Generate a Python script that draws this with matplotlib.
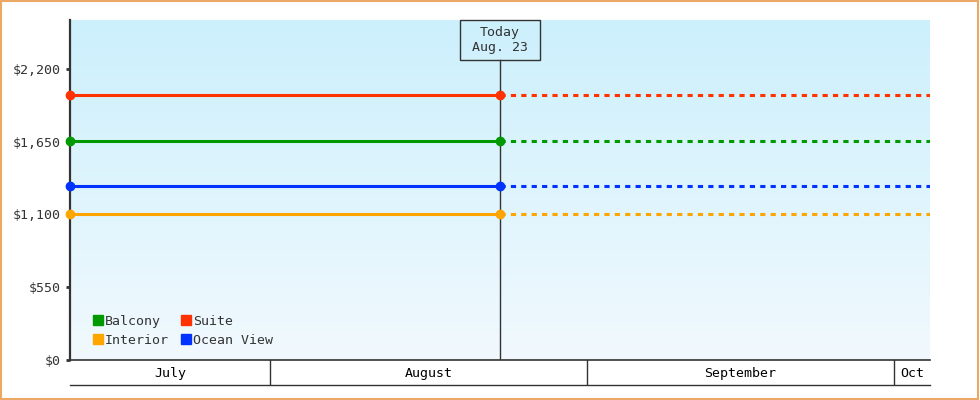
import datetime as dt
import numpy as np
import matplotlib
matplotlib.use("Agg")
import matplotlib.pyplot as plt
import matplotlib.dates as mdates
from matplotlib.patches import Rectangle
from matplotlib.lines import Line2D
from matplotlib.ticker import FuncFormatter

# cabin prices (flat), per cabin type
cabins = ["Balcony", "Suite", "Interior", "Ocean View"]
prices = [1655, 2005, 1100, 1315]
colors = ["#009900", "#ff3300", "#ffa500", "#0033ff"]

start = dt.datetime(2024, 7, 12, 12)
today = dt.datetime(2024, 8, 23, 12)
end = dt.datetime(2024, 10, 4, 12)
today_label = "Today\nAug. 23"

month_starts = [dt.datetime(2024, 8, 1), dt.datetime(2024, 9, 1), dt.datetime(2024, 10, 1)]
month_names = ["July", "August", "September", "Oct"]

yticks = [0, 550, 1100, 1650, 2200]
ymax = 2570

plt.rcParams["font.family"] = ["DejaVu Sans Mono"]
plt.rcParams["font.size"] = 9.5
dark = "#333333"

fig = plt.figure(figsize=(9.8, 4.0), dpi=100)
fig.patch.set_facecolor("white")
fig.patches.append(Rectangle((0.001, 0.002), 0.997, 0.996, transform=fig.transFigure,
                             fill=False, edgecolor="#eba966", linewidth=1.5))

ax = fig.add_axes([70 / 980, 40 / 400, 860 / 980, 340 / 400])
ax.set_xlim(start, end)
ax.set_ylim(0, ymax)

# gradient background
grad = np.linspace(0, 1, 256).reshape(-1, 1)
top = np.array([204, 240, 252]) / 255
bot = np.array([241, 249, 254]) / 255
img = top * (1 - grad[..., None]) + bot * grad[..., None]
ax.imshow(img, extent=[0, 1, 0, 1], transform=ax.transAxes, aspect="auto", zorder=0)

for name, p, c in zip(cabins, prices, colors):
    ax.plot([start, today], [p, p], color=c, lw=2.2, marker="o", ms=6,
            solid_capstyle="butt", zorder=3, clip_on=False)
    ax.plot([today, end], [p, p], color=c, lw=2.2, linestyle=(0, (1.7, 1.7)),
            dash_capstyle="butt", zorder=3)

# today marker
ax.axvline(today, ymin=0, ymax=300 / 340, color=dark, lw=1, zorder=2)
tx = mdates.date2num(today)
trans = ax.get_xaxis_transform()
ax.add_patch(Rectangle((tx - 3.9, 300 / 340), 7.8, 40 / 340, transform=trans,
                       facecolor="none", edgecolor=dark, lw=1, zorder=4, clip_on=False))
ax.text(tx, 320 / 340, today_label, transform=trans, ha="center", va="center",
        color=dark, linespacing=1.25, zorder=5)

ax.set_yticks(yticks)
ax.yaxis.set_major_formatter(FuncFormatter(lambda v, _: "${:,.0f}".format(v)))
ax.tick_params(axis="y", length=3, width=2, color=dark, pad=4, labelcolor=dark)
ax.set_xticks([])
for s in ["top", "right"]:
    ax.spines[s].set_visible(False)
ax.spines["left"].set_color(dark)
ax.spines["left"].set_linewidth(1.6)
ax.spines["bottom"].set_color(dark)
ax.spines["bottom"].set_linewidth(1.2)

handles = [Line2D([], [], ls="none", marker="s", ms=7.5, color=c) for c in colors]
order = [0, 2, 1, 3]
ax.legend([handles[i] for i in order], [cabins[i] for i in order], ncol=2,
          loc="lower left", bbox_to_anchor=(0.02, 0.023), frameon=False,
          handlelength=0.8, handletextpad=0.15, columnspacing=0.85, labelspacing=0.45,
          borderaxespad=0, labelcolor=dark)

# month band under the chart
ax2 = fig.add_axes([70 / 980, 15 / 400, 860 / 980, 25 / 400])
ax2.set_xlim(start, end)
ax2.set_ylim(0, 1)
ax2.patch.set_alpha(0)
for s in ["top", "right", "left"]:
    ax2.spines[s].set_visible(False)
ax2.spines["bottom"].set_color(dark)
ax2.spines["bottom"].set_linewidth(1)
ax2.set_xticks([])
ax2.set_yticks([])
for m in month_starts:
    ax2.axvline(m, color=dark, lw=1)
bounds = [mdates.date2num(start)] + [mdates.date2num(m) for m in month_starts] + [mdates.date2num(end)]
for i, name in enumerate(month_names):
    ax2.text((bounds[i] + bounds[i + 1]) / 2, 0.45, name, ha="center", va="center", color="black")

fig.savefig("out.png", dpi=100)
